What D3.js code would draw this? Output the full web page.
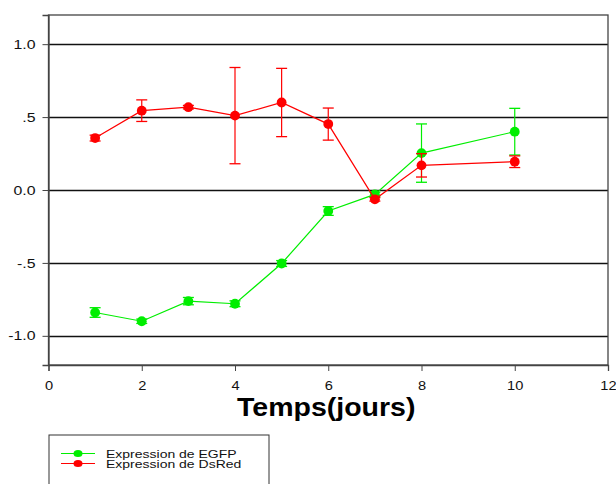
<!DOCTYPE html>
<html>
<head>
<meta charset="utf-8">
<script src="https://cdn.jsdelivr.net/npm/d3@7"></script>
<style>
  body { margin: 0; background: #fff; }
  text { font-family: Arial, "Liberation Sans", sans-serif; }
</style>
</head>
<body>
<div id="chart"></div>
<script>
// Data
var days = [1, 2, 3, 4, 5, 6, 7, 8, 10];
var egfp = [-0.84, -0.90, -0.762, -0.78, -0.504, -0.144, -0.03, 0.253, 0.40];
var egfpErr = [0.033, 0.015, 0.025, 0.02, 0.02, 0.03, 0.015, 0.2, 0.16];
var dsred = [0.356, 0.544, 0.568, 0.51, 0.60, 0.452, -0.064, 0.169, 0.194];
var dsredErr = [0.02, 0.074, 0.012, 0.33, 0.234, 0.11, 0.012, 0.08, 0.04];
var xTicks = [0, 2, 4, 6, 8, 10, 12];
var yTicks = [-1.0, -0.5, 0.0, 0.5, 1.0];
var yTickLabels = ["-1.0", "-.5", "0.0", ".5", "1.0"];

var margin = {top: 15, right: 8, bottom: 119, left: 48.5};
var width = 616 - margin.left - margin.right;
var height = 484 - margin.top - margin.bottom;

// the original picture is stretched sideways, so text is widened a bit
var stretch = 1.22;

var svg = d3.select("#chart")
  .append("svg")
    .attr("width", 616)
    .attr("height", 484)
  .append("g")
    .attr("transform", "translate(" + margin.left + "," + margin.top + ")");

var x = d3.scaleLinear().domain([0, 12]).range([0, width]);
var y = d3.scaleLinear().domain([-1.2, 1.2]).range([height, 0]);

// Grid lines
svg.append("g")
  .selectAll("line")
  .data(yTicks)
  .enter()
  .append("line")
    .attr("x1", 0)
    .attr("x2", width)
    .attr("y1", function(d) { return Math.round(y(d)) + 0.5; })
    .attr("y2", function(d) { return Math.round(y(d)) + 0.5; })
    .attr("stroke", "#111")
    .attr("stroke-width", 1.3);

// Frame
svg.append("rect")
  .attr("x", 0)
  .attr("y", 0)
  .attr("width", width)
  .attr("height", height)
  .attr("fill", "none")
  .attr("stroke", "#444")
  .attr("stroke-width", 1.3);

// X axis
var xAxis = svg.append("g")
  .attr("transform", "translate(0," + height + ")")
  .call(d3.axisBottom(x).tickValues(xTicks).tickSize(6).tickPadding(10).tickFormat(d3.format("d")));
xAxis.select(".domain").attr("stroke", "#444").attr("stroke-width", 1.3);
xAxis.selectAll(".tick line").attr("stroke", "#444");
xAxis.selectAll("text")
  .attr("font-size", 12)
  .attr("fill", "#111")
  .attr("transform", "scale(" + stretch + ",1)")
  .style("font-family", "Arial, 'Liberation Sans', sans-serif");

// Y axis
var yAxis = svg.append("g")
  .call(d3.axisLeft(y).tickValues(yTicks).tickSize(6).tickPadding(5)
    .tickFormat(function(d, i) { return yTickLabels[i]; }));
yAxis.select(".domain").attr("stroke", "#444").attr("stroke-width", 1.3);
yAxis.selectAll(".tick line").attr("stroke", "#444");
yAxis.selectAll("text")
  .attr("font-size", 13)
  .attr("fill", "#111")
  .attr("x", -13 / stretch)
  .attr("transform", "scale(" + stretch + ",1)")
  .style("font-family", "Arial, 'Liberation Sans', sans-serif");

// X label
svg.append("text")
  .attr("transform", "translate(" + (width / 2 - 2) + "," + (height + 51) + ") scale(1.14,1)")
  .attr("text-anchor", "middle")
  .attr("font-size", 25)
  .attr("font-weight", "bold")
  .attr("fill", "#000")
  .text("Temps(jours)");

function drawSeries(values, errs, color) {
  var data = days.map(function(d, i) { return {x: d, y: values[i], e: errs[i]}; });
  var g = svg.append("g");

  g.append("path")
    .datum(data)
    .attr("fill", "none")
    .attr("stroke", color)
    .attr("stroke-width", 1.2)
    .attr("d", d3.line()
      .x(function(d) { return x(d.x); })
      .y(function(d) { return y(d.y); }));

  var eb = g.selectAll(".err")
    .data(data)
    .enter()
    .append("g");
  eb.append("line")
    .attr("x1", function(d) { return x(d.x); })
    .attr("x2", function(d) { return x(d.x); })
    .attr("y1", function(d) { return y(d.y - d.e); })
    .attr("y2", function(d) { return y(d.y + d.e); })
    .attr("stroke", color).attr("stroke-width", 1.2);
  [1, -1].forEach(function(s) {
    eb.append("line")
      .attr("x1", function(d) { return x(d.x) - 5.5; })
      .attr("x2", function(d) { return x(d.x) + 5.5; })
      .attr("y1", function(d) { return y(d.y + s * d.e); })
      .attr("y2", function(d) { return y(d.y + s * d.e); })
      .attr("stroke", color).attr("stroke-width", 1.3);
  });

  g.selectAll("circle")
    .data(data)
    .enter()
    .append("circle")
      .attr("cx", function(d) { return x(d.x); })
      .attr("cy", function(d) { return y(d.y); })
      .attr("r", 4.9)
      .attr("fill", color);
}

drawSeries(egfp, egfpErr, "#00ee00");
drawSeries(dsred, dsredErr, "#ff0000");

// Legend
var legend = d3.select("svg").append("g")
  .attr("transform", "translate(49,435)");
legend.append("rect")
  .attr("x", 0).attr("y", 0)
  .attr("width", 220).attr("height", 60)
  .attr("fill", "#fff")
  .attr("stroke", "#333")
  .attr("stroke-width", 1);
var legendItems = [{name: "Expression de EGFP", color: "#00ee00"}, {name: "Expression de DsRed", color: "#ff0000"}];
var li = legend.selectAll(".li")
  .data(legendItems)
  .enter()
  .append("g")
    .attr("transform", function(d, i) { return "translate(0," + (18.5 + i * 10) + ")"; });
li.append("line")
  .attr("x1", 12).attr("x2", 46)
  .attr("stroke", function(d) { return d.color; })
  .attr("stroke-width", 1.2);
li.append("ellipse")
  .attr("cx", 29).attr("rx", 4.5).attr("ry", 3.5)
  .attr("fill", function(d) { return d.color; });
li.append("text")
  .attr("transform", "translate(57,4) scale(1.4,1)")
  .attr("font-size", 10)
  .attr("fill", "#111")
  .text(function(d) { return d.name; });
</script>
</body>
</html>
